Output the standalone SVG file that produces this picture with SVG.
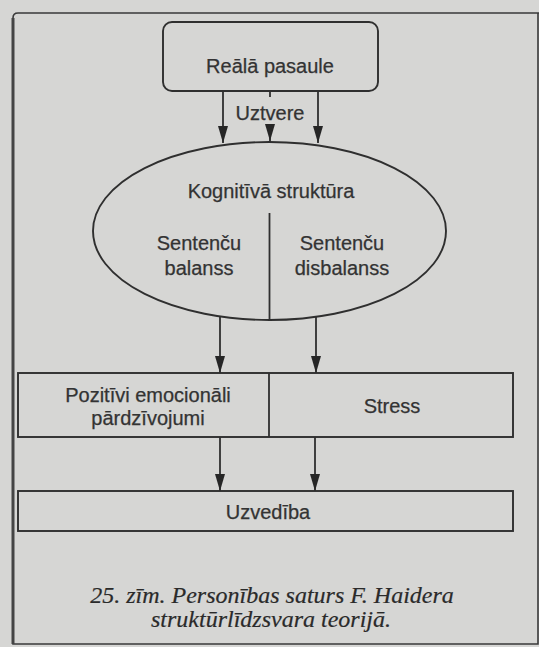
<svg xmlns="http://www.w3.org/2000/svg" width="539" height="647" viewBox="0 0 539 647">
  <style>
    .line { fill: none; stroke: #2f2f2f; stroke-width: 1.8; }
    .box { fill: none; stroke: #2f2f2f; stroke-width: 1.9; }
    .lbl { font-family: "Liberation Sans", Arial, sans-serif; font-size: 20px; fill: #333; stroke: #333; stroke-width: 0.25; text-anchor: middle; }
    .cap { font-family: "Liberation Serif", "Times New Roman", serif; font-style: italic; font-size: 24px; fill: #2a2a2a; stroke: #2a2a2a; stroke-width: 0.2; text-anchor: middle; }
  </style>
  <defs>
    <marker id="arrow" viewBox="0 0 17 10" refX="17" refY="5" markerWidth="17" markerHeight="10" markerUnits="userSpaceOnUse" orient="auto">
      <path d="M0,0 L17,5 L0,10 z" fill="#262626"/>
    </marker>
  </defs>

  <!-- page -->
  <rect x="0" y="0" width="539" height="647" fill="#d6d6d4"/>

  <!-- frame -->
  <path d="M539,13 L18,13 Q13,13 13,18 L13,644 L538,644 L538,13" fill="none" stroke="#3a3a3a" stroke-width="1.6"/>
  <line x1="13" y1="18" x2="13" y2="644" stroke="#444" stroke-width="3"/>

  <!-- nodes -->
  <g id="reala-pasaule">
    <rect class="box" x="163" y="22" width="215" height="69" rx="9"/>
    <text class="lbl" x="270" y="73">Reālā pasaule</text>
  </g>

  <g id="kognitiva-struktura">
    <ellipse class="box" cx="269.5" cy="231" rx="176.5" ry="89"/>
    <line class="line" x1="269.5" y1="213" x2="269.5" y2="320"/>
    <text class="lbl" x="271" y="198">Kognitīvā struktūra</text>
    <text class="lbl" x="199" y="250">Sentenču</text>
    <text class="lbl" x="199" y="275">balanss</text>
    <text class="lbl" x="342" y="250">Sentenču</text>
    <text class="lbl" x="342" y="275">disbalanss</text>
  </g>

  <g id="emocijas">
    <rect class="box" x="18" y="373" width="495" height="64"/>
    <line class="line" x1="269" y1="373" x2="269" y2="437"/>
    <text class="lbl" x="148" y="402">Pozitīvi emocionāli</text>
    <text class="lbl" x="148" y="425">pārdzīvojumi</text>
    <text class="lbl" x="392" y="413">Stress</text>
  </g>

  <g id="uzvediba">
    <rect class="box" x="18" y="491" width="495" height="40"/>
    <text class="lbl" x="268" y="519">Uzvedība</text>
  </g>

  <!-- connectors -->
  <g id="connectors" class="line" marker-end="url(#arrow)">
    <line x1="223" y1="91" x2="223" y2="143"/>
    <line x1="318" y1="91" x2="318" y2="143"/>
    <line x1="270" y1="124" x2="270" y2="141"/>
    <line x1="220" y1="317" x2="220" y2="373"/>
    <line x1="316" y1="317" x2="316" y2="373"/>
    <line x1="220" y1="437" x2="220" y2="491"/>
    <line x1="315" y1="437" x2="315" y2="491"/>
  </g>
  <line class="line" x1="270" y1="91" x2="270" y2="97"/>
  <text class="lbl" x="270" y="120">Uztvere</text>

  <!-- caption -->
  <text class="cap" x="272" y="603">25. zīm. Personības saturs F. Haidera</text>
  <text class="cap" x="271" y="627">struktūrlīdzsvara teorijā.</text>
</svg>
